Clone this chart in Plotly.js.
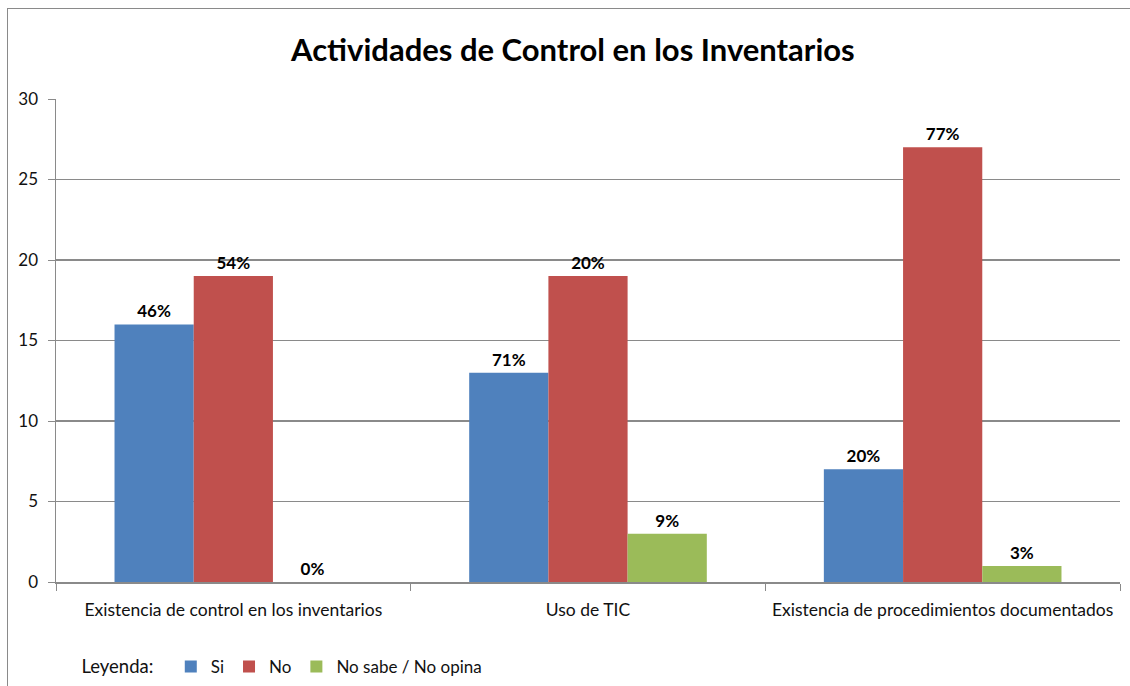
<!DOCTYPE html>
<html>
<head>
<meta charset="utf-8">
<script src="https://cdn.plot.ly/plotly-3.0.1.min.js"></script>
<style>
html,body{margin:0;padding:0;background:#fff;}
#wrap{position:absolute;left:0;top:0;width:1130px;height:686px;}
#frame{position:absolute;left:7px;top:8px;width:1123px;height:678px;border-top:1.5px solid #8a8a8a;border-left:1.5px solid #8a8a8a;pointer-events:none;}
#chart{position:absolute;left:0;top:0;width:1130px;height:686px;}
</style>
</head>
<body>
<div id="wrap"><div id="chart"></div><div id="frame"></div></div>
<script>
const categories = ["Existencia de control en los inventarios", "Uso de TIC", "Existencia de procedimientos documentados"];
const siValues = [16, 13, 7];
const noValues = [19, 19, 27];
const nsValues = [0, 3, 1];
const siLabels = ["46%", "71%", "20%"];
const noLabels = ["54%", "20%", "77%"];
const nsLabels = ["0%", "9%", "3%"];
const seriesNames = ["Si", "No", "No sabe / No opina"];
const yTicks = [0, 5, 10, 15, 20, 25, 30];

const font = "Lato, 'Open Sans', sans-serif";
const labelFont = {family: font, size: 17, color: "#000", weight: "bold"};

function mk(name, vals, labels, color) {
  return {
    type: "bar", name: name, x: categories, y: vals, text: labels,
    textposition: "outside", textfont: labelFont, cliponaxis: false,
    marker: {color: color}, hoverinfo: "skip"
  };
}

const data = [
  mk(seriesNames[0], siValues, siLabels, "#4F81BD"),
  mk(seriesNames[1], noValues, noLabels, "#C0504D"),
  mk(seriesNames[2], nsValues, nsLabels, "#9BBB59")
];

const layout = {
  width: 1130, height: 686,
  margin: {l: 56, r: 10, t: 99, b: 104, autoexpand: false},
  paper_bgcolor: "#fff", plot_bgcolor: "#fff",
  title: {text: "<b>Actividades de Control en los Inventarios</b>", x: 0.507, xref: "container", xanchor: "center", y: 0.927, yref: "container", yanchor: "middle",
    font: {family: font, size: 31, color: "#000"}},
  barmode: "group", bargap: 0.33, bargroupgap: 0,
  xaxis: {
    showline: true, linecolor: "#8a8a8a", linewidth: 1.5,
    ticks: "outside", tickson: "boundaries", ticklen: 7, tickcolor: "#8a8a8a",
    tickfont: {family: font, size: 17.5, color: "#111"},
    ticklabelstandoff: 11,
    showgrid: false, zeroline: false, fixedrange: true
  },
  yaxis: {
    range: [0, 30], tickvals: yTicks, ticktext: yTicks.map(String),
    showline: true, linecolor: "#8a8a8a", linewidth: 1.5,
    ticks: "outside", ticklen: 7, tickcolor: "#8a8a8a",
    tickfont: {family: font, size: 17, color: "#111"},
    ticklabelstandoff: 6,
    showgrid: true, gridcolor: "#8a8a8a", gridwidth: 1.2,
    zeroline: false, fixedrange: true
  },
  showlegend: true,
  legend: {
    orientation: "h", x: 0.022, xanchor: "left", y: -0.176, yanchor: "middle",
    title: {text: "Leyenda:  ", side: "left", font: {family: font, size: 18.5, color: "#111"}},
    font: {family: font, size: 17, color: "#111"},
    itemwidth: 30, tracegroupgap: 0, bgcolor: "rgba(0,0,0,0)"
  }
};

Plotly.newPlot("chart", data, layout, {displayModeBar: false, staticPlot: true});
</script>
</body>
</html>
